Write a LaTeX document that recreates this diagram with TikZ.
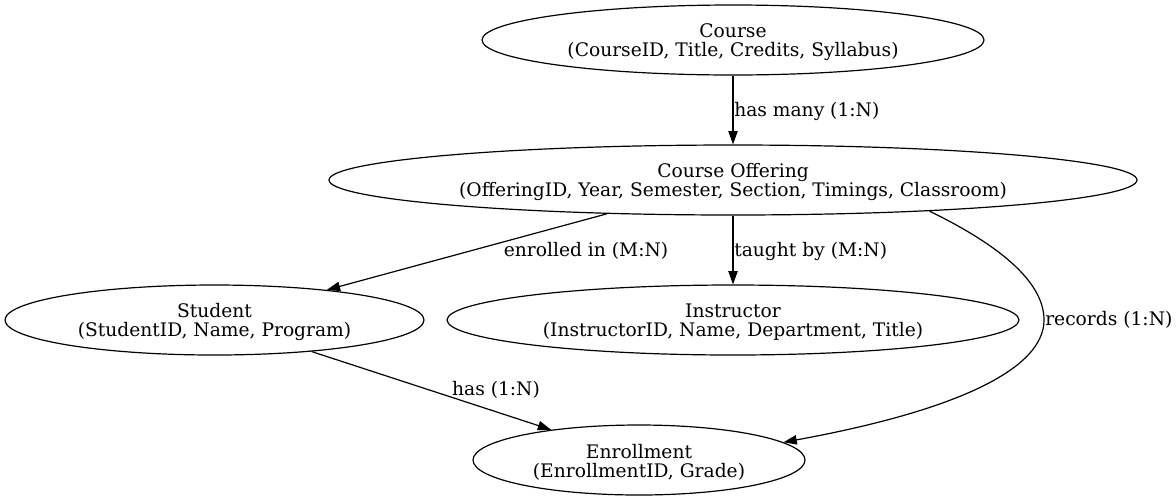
\documentclass[tikz,border=0pt]{standalone}
\usepackage{fontspec}
\setmainfont{DejaVu Serif}
\usetikzlibrary{shapes.geometric,arrows.meta}
\newcommand{\firstline}{\rule{0pt}{13.5pt}}
\tikzset{
  entity/.style={ellipse, draw, line width=0.9pt, inner sep=0pt, minimum height=52.5pt, align=center, font=\fontsize{14}{14.25}\selectfont},
  edge/.style={line width=0.9pt, -{Triangle[length=10pt,width=7pt]}},
  elabel/.style={inner sep=0pt, font=\fontsize{14}{14.25}\selectfont}
}
\begin{document}
\begin{tikzpicture}[x=0.75pt,y=-0.75pt]
\useasboundingbox (0,0) rectangle (1176,501);
\node[entity, minimum width=376.5pt] (course) at (733,40) {\firstline Course\\(CourseID, Title, Credits, Syllabus)};
\node[entity, minimum width=606pt] (off) at (733,180) {\firstline Course Offering\\(OfferingID, Year, Semester, Section, Timings, Classroom)};
\node[entity, minimum width=314.25pt] (stu) at (214.5,320) {\firstline Student\\(StudentID, Name, Program)};
\node[entity, minimum width=429pt] (ins) at (733,320) {\firstline Instructor\\(InstructorID, Name, Department, Title)};
\node[entity, minimum width=249pt] (enr) at (639,460) {\firstline Enrollment\\(EnrollmentID, Grade)};

\draw[edge] (course.south) -- (off.north);
\node[elabel, anchor=west] (l1) at (734,111) {has many (1:N)};

\draw[edge] (off.195) -- (stu.15);
\node[elabel] (l2) at (586,251) {enrolled in (M:N)};

\draw[edge] (off.south) -- (ins.north);
\node[elabel, anchor=west] (l3) at (734,251) {taught by (M:N)};

\coordinate (rmid) at (1044,320);
\draw[edge] (off.-9.2) .. controls (995,243) and (1044,280) .. (rmid) .. controls (1044,368) and (960,410) .. (enr.7.5);
\node[elabel, anchor=west] (l4) at (1045,320) {records (1:N)};

\draw[edge] (stu.-18) -- (enr.161.7);
\node[elabel] (l5) at (496,390) {has (1:N)};
\end{tikzpicture}
\end{document}
